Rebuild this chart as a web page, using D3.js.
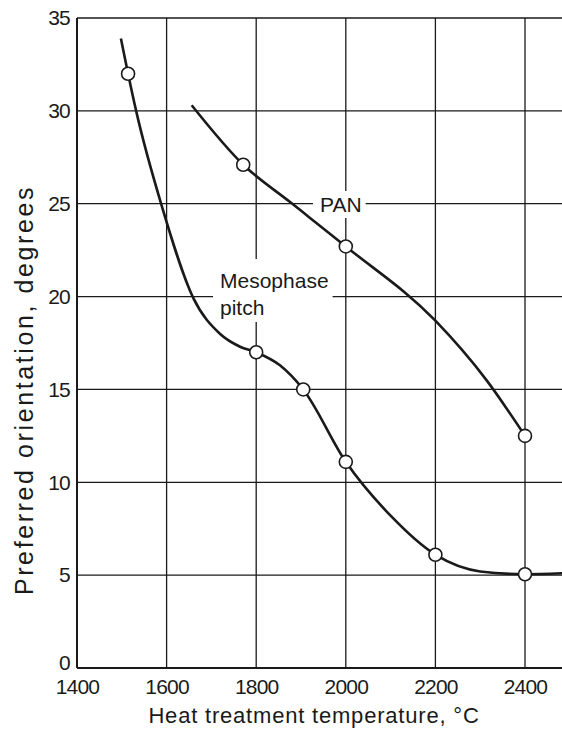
<!DOCTYPE html>
<html><head><meta charset="utf-8">
<script src="https://cdn.jsdelivr.net/npm/d3@7"></script>
<style>
html,body{margin:0;padding:0;background:#fff;}
svg{display:block;}
text{font-family:"Liberation Sans",Arial,Helvetica,sans-serif;fill:#1a1a1a;}
</style></head>
<body>
<svg id="c" width="562" height="734"></svg>
<script>
// ---- data ----
const xTicks = [1400, 1600, 1800, 2000, 2200, 2400];
const yTicks = [0, 5, 10, 15, 20, 25, 30, 35];
// Mesophase pitch curve trace and measured points
const mesoCurveT = [1498, 1514, 1532, 1589, 1660, 1719, 1764, 1800, 1853, 1905, 2000, 2100, 2200, 2300, 2400, 2483];
const mesoCurveV = [33.9, 32.0, 30.0, 24.9, 19.9, 18.0, 17.3, 17.0, 16.3, 15.0, 11.1, 8.2, 6.1, 5.2, 5.05, 5.1];
const mesoPtsT = [1514, 1800, 1905, 2000, 2200, 2400];
const mesoPtsV = [32.0, 17.0, 15.0, 11.1, 6.1, 5.05];
// PAN curve trace and measured points
const panCurveT = [1656, 1771, 1875, 2000, 2200, 2314, 2400];
const panCurveV = [30.3, 27.1, 25.1, 22.7, 18.7, 15.5, 12.5];
const panPtsT = [1771, 2000, 2400];
const panPtsV = [27.1, 22.7, 12.5];

const svg = d3.select("#c");
const x = d3.scaleLinear().domain([1400, 2400]).range([77, 525]);
const y = d3.scaleLinear().domain([0, 35]).range([668, 18]);
const xMaxPx = 562;
const ink = "#1a1a1a";

// grid lines
const g = svg.append("g");
g.selectAll("line.h").data(yTicks.filter(d => d > 0)).join("line")
  .attr("x1", x(1400)).attr("x2", xMaxPx)
  .attr("y1", d => y(d)).attr("y2", d => y(d))
  .attr("stroke", ink).attr("stroke-width", 1.3);
g.selectAll("line.v").data(xTicks.filter(d => d > 1400)).join("line")
  .attr("x1", d => x(d)).attr("x2", d => x(d))
  .attr("y1", y(0)).attr("y2", y(35))
  .attr("stroke", ink).attr("stroke-width", 1.3);
// axes lines
svg.append("line").attr("x1", x(1400)).attr("x2", x(1400)).attr("y1", y(0)).attr("y2", y(35))
  .attr("stroke", ink).attr("stroke-width", 2);
svg.append("line").attr("x1", x(1400)).attr("x2", xMaxPx).attr("y1", y(0)).attr("y2", y(0))
  .attr("stroke", ink).attr("stroke-width", 2);

// tick labels via d3 axes (domain and tick lines hidden)
const xAxis = svg.append("g").attr("transform", `translate(0,${y(0)})`)
  .call(d3.axisBottom(x).tickValues(xTicks).tickSize(0).tickPadding(11).tickFormat(d3.format("d")));
const yAxis = svg.append("g").attr("transform", `translate(${x(1400)},0)`)
  .call(d3.axisLeft(y).tickValues(yTicks).tickSize(0).tickPadding(7).tickFormat(d3.format("d")));
[xAxis, yAxis].forEach(a => {
  a.select(".domain").remove();
  a.selectAll("text").attr("font-size", 21).attr("fill", ink).attr("letter-spacing", -0.8)
    .style("font-family", '"Liberation Sans",Arial,sans-serif');
});
// the "0" sits just above the axis line in the original
yAxis.selectAll(".tick").filter(d => d === 0).select("text").attr("dy", "0.05em");

// labels with white background
function label(lines, x0, yBase, lh, pad) {
  const grp = svg.append("g");
  const rect = grp.append("rect").attr("fill", "#fff");
  const t = grp.append("text").attr("font-size", 21);
  lines.forEach((s, i) => t.append("tspan").attr("x", x0).attr("y", yBase + i * lh).text(s));
  const b = t.node().getBBox();
  rect.attr("x", b.x - pad[0]).attr("y", b.y - pad[1])
    .attr("width", b.width + pad[0] + pad[2]).attr("height", b.height + pad[1] + pad[3]);
}
label(["PAN"], 320, 212, 0, [7, 2, 4, 2]);
label(["Mesophase", "pitch"], 220, 288, 27, [7, 10, 4, 3]);

// curves
const line = d3.line().x(d => x(d[0])).y(d => y(d[1])).curve(d3.curveMonotoneX);
svg.append("path").datum(d3.zip(mesoCurveT, mesoCurveV)).attr("d", line)
  .attr("fill", "none").attr("stroke", ink).attr("stroke-width", 2.6);
svg.append("path").datum(d3.zip(panCurveT, panCurveV)).attr("d", line)
  .attr("fill", "none").attr("stroke", ink).attr("stroke-width", 2.6);

// points
const pts = d3.zip(mesoPtsT, mesoPtsV).concat(d3.zip(panPtsT, panPtsV));
svg.selectAll("circle.p").data(pts).join("circle")
  .attr("cx", d => x(d[0])).attr("cy", d => y(d[1])).attr("r", 6.5)
  .attr("fill", "#fff").attr("stroke", ink).attr("stroke-width", 1.6);

// axis titles
svg.append("text").attr("x", 314).attr("y", 723).attr("text-anchor", "middle")
  .attr("font-size", 22).attr("letter-spacing", 0.8).text("Heat treatment temperature, \u00B0C");
svg.append("text").attr("transform", "translate(33,390) rotate(-90)").attr("text-anchor", "middle")
  .attr("font-size", 25).attr("letter-spacing", 2.6).text("Preferred orientation, degrees");
</script>
</body></html>
